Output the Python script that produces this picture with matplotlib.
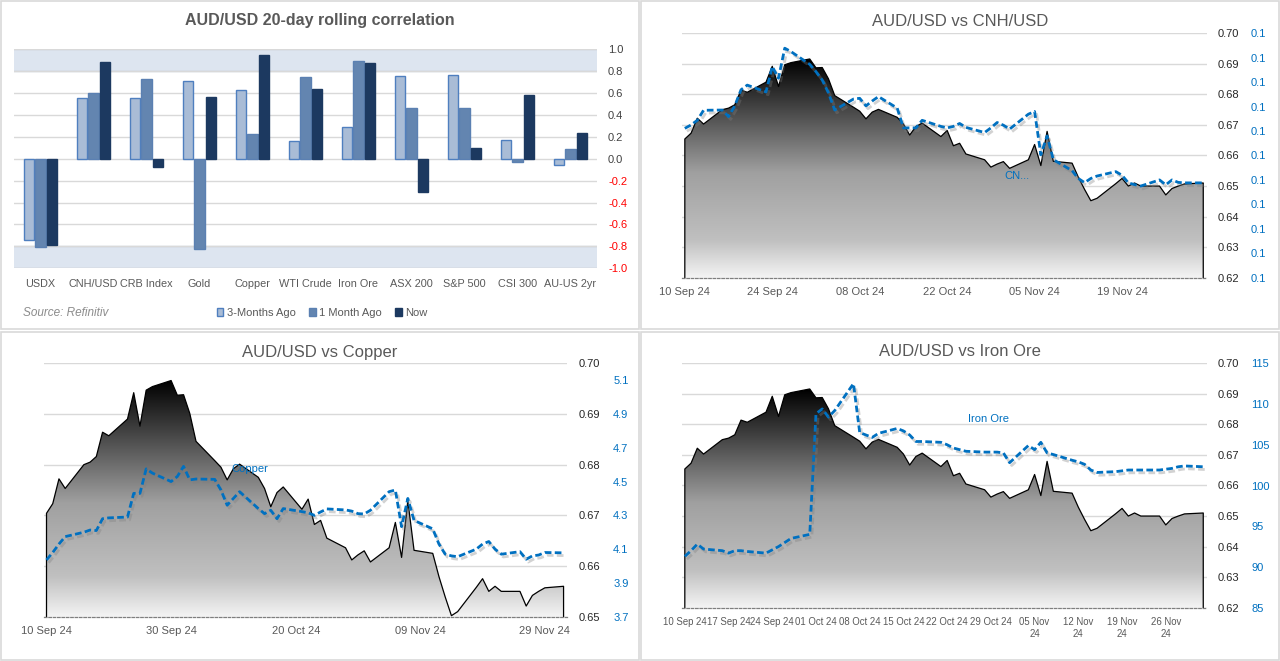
import numpy as np
import pandas as pd
import matplotlib
matplotlib.use('Agg')
import matplotlib.pyplot as plt
import matplotlib.dates as mdates
from matplotlib.colors import LinearSegmentedColormap
from matplotlib import patheffects as pe
from matplotlib.patches import Rectangle

plt.rcParams['font.family'] = ['Liberation Sans', 'DejaVu Sans']

# ---------------- correlation bars ----------------
categories = ['USDX', 'CNH/USD', 'CRB Index', 'Gold', 'Copper', 'WTI Crude',
              'Iron Ore', 'ASX 200', 'S&P 500', 'CSI 300', 'AU-US 2yr']
corr_3m = [-0.74, 0.555, 0.555, 0.71, 0.627, 0.164, 0.291, 0.755, 0.764, 0.173, -0.055]
corr_1m = [-0.805, 0.60, 0.727, -0.827, 0.227, 0.745, 0.894, 0.467, 0.467, -0.03, 0.085]
corr_now = [-0.79, 0.885, -0.076, 0.567, 0.948, 0.639, 0.876, -0.303, 0.103, 0.585, 0.239]
corr_ticks = [1.0, 0.8, 0.6, 0.4, 0.2, 0.0, -0.2, -0.4, -0.6, -0.8, -1.0]

# ---------------- daily series ----------------
dates = pd.bdate_range('2024-09-10', '2024-12-02')
audusd = [0.6654, 0.6673, 0.6722, 0.6703,
          0.6750, 0.6755, 0.6766, 0.6814, 0.6807,
          0.6840, 0.6892, 0.6826, 0.6897, 0.6904,
          0.6916, 0.6887, 0.6888, 0.6851, 0.6796,
          0.6758, 0.6745, 0.6720, 0.6742, 0.6751,
          0.6725, 0.6703, 0.6667, 0.6695, 0.6706,
          0.6662, 0.6682, 0.6632, 0.6640, 0.6605,
          0.6586, 0.6562, 0.6572, 0.6580, 0.6558,
          0.6586, 0.6636, 0.6567, 0.6679, 0.6581,
          0.6575, 0.6529, 0.6489, 0.6452, 0.6460,
          0.6508, 0.6525, 0.6500, 0.6510, 0.6500,
          0.6500, 0.6471, 0.6492, 0.6500, 0.6507, 0.6510]
cnhusd = [0.14011, 0.14025, 0.14044, 0.14085,
          0.14086, 0.14059, 0.14103, 0.14169, 0.14188,
          0.14160, 0.14264, 0.14216, 0.14339, 0.14325,
          0.14273, 0.14243, 0.14209, 0.14156, 0.14086,
          0.14131, 0.14134, 0.14103, 0.14123, 0.14141,
          0.14094, 0.14013, 0.14013, 0.14013, 0.14044,
          0.14019, 0.14013, 0.14019, 0.14031, 0.14015,
          0.13994, 0.14013, 0.14035, 0.14024, 0.14008,
          0.14069, 0.14080, 0.13903, 0.13980, 0.13883,
          0.13838, 0.13806, 0.13789, 0.13806, 0.13816,
          0.13834, 0.13819, 0.13788, 0.13781, 0.13775,
          0.13800, 0.13780, 0.13800, 0.13790, 0.13788, 0.13788]
copper = [4.036, 4.08, 4.13, 4.174,
          4.20, 4.213, 4.21, 4.28, 4.285,
          4.29, 4.43, 4.43, 4.575, 4.55,
          4.50, 4.53, 4.59, 4.51, 4.515,
          4.513, 4.45, 4.36, 4.40, 4.44,
          4.34, 4.31, 4.33, 4.28, 4.34,
          4.322, 4.315, 4.30, 4.32, 4.338,
          4.332, 4.325, 4.31, 4.308, 4.33,
          4.44, 4.45, 4.233, 4.40, 4.27,
          4.22, 4.13, 4.07, 4.06, 4.055,
          4.10, 4.13, 4.145, 4.10, 4.07,
          4.085, 4.04, 4.06, 4.065, 4.08, 4.078]
iron_ore = [91.3, 92.0, 92.8, 92.2,
            92.0, 91.7, 92.0, 92.0, 91.9,
            91.7, 92.1, 92.5, 93.0, 93.5,
            94.0, 108.8, 109.4, 108.4, 109.2,
            112.5, 106.5, 106.2, 105.9, 106.4,
            107.0, 106.7, 106.2, 105.4, 105.4,
            105.3, 105.0, 104.6, 104.4, 104.2,
            104.1, 104.1, 104.1, 104.0, 102.8,
            104.9, 104.4, 105.3, 104.0, 103.8,
            103.1, 102.9, 102.6, 101.9, 101.6,
            101.7, 101.8, 101.9, 101.9, 101.9,
            101.9, 102.0, 102.1, 102.3, 102.4, 102.3]

cnh_xticks = ['2024-09-10', '2024-09-24', '2024-10-08', '2024-10-22', '2024-11-05', '2024-11-19']
cnh_xlabels = ['10 Sep 24', '24 Sep 24', '08 Oct 24', '22 Oct 24', '05 Nov 24', '19 Nov 24']
cu_xticks = ['2024-09-10', '2024-09-30', '2024-10-20', '2024-11-09', '2024-11-29']
cu_xlabels = ['10 Sep 24', '30 Sep 24', '20 Oct 24', '09 Nov 24', '29 Nov 24']
fe_xticks = ['2024-09-10', '2024-09-17', '2024-09-24', '2024-10-01', '2024-10-08', '2024-10-15',
             '2024-10-22', '2024-10-29', '2024-11-05', '2024-11-12', '2024-11-19', '2024-11-26']
fe_xlabels = ['10 Sep 24', '17 Sep 24', '24 Sep 24', '01 Oct 24', '08 Oct 24', '15 Oct 24',
              '22 Oct 24', '29 Oct 24', '05 Nov\n24', '12 Nov\n24', '19 Nov\n24', '26 Nov\n24']

BLUE = '#0070c0'
GREY_TXT = '#595959'
area_cmap = LinearSegmentedColormap.from_list(
    'area', [(0, '#000000'), (0.52, '#a0a0a0'), (0.83, '#c0c0c0'), (1, '#f4f4f4')])

W, H = 1280, 661
fig = plt.figure(figsize=(W / 100, H / 100), dpi=100)


def rect(x0, y0, x1, y1):
    return [x0 / W, 1 - y1 / H, (x1 - x0) / W, (y1 - y0) / H]


# quadrant borders
for qx, qy in [(0, 0.5), (0.5, 0.5), (0, 0), (0.5, 0)]:
    fig.add_artist(Rectangle((qx + 0.001, qy + 0.002), 0.498, 0.496, transform=fig.transFigure,
                             fill=False, edgecolor='#d9d9d9', lw=1.2))

# ================= top-left: correlation bars =================
ax1 = fig.add_axes(rect(14, 49.3, 597, 268.3))
x = np.arange(len(categories))
w, off = 0.19, 0.223
ax1.axhspan(0.8, 1.0, color='#dde5f0', zorder=0, lw=0)
ax1.axhspan(-1.0, -0.8, color='#dde5f0', zorder=0, lw=0)
ax1.bar(x - off, corr_3m, w, color='#a9bcd6', edgecolor='#4f7fbf', lw=1, zorder=3, label='3-Months Ago')
ax1.bar(x, corr_1m, w, color='#6385b0', edgecolor='#5b80b2', lw=1, zorder=3, label='1 Month Ago')
ax1.bar(x + off, corr_now, w, color='#1c3960', edgecolor='#1c3960', lw=1, zorder=3, label='Now')
ax1.set_xlim(-0.5, len(categories) - 0.5)
ax1.set_ylim(-1, 1)
ax1.yaxis.tick_right()
ax1.set_yticks(corr_ticks, [f'{t:.1f}' for t in corr_ticks])
for lab, t in zip(ax1.get_yticklabels(), corr_ticks):
    lab.set_color('#ff0000' if t < 0 else '#404040')
ax1.grid(axis='y', color='#d9d9d9', lw=1, zorder=1)
for yb in (0.8, -0.8, 1.0, -1.0):
    ax1.axhline(yb, color='#c5cedb', lw=1, zorder=1)
for sp in ax1.spines.values():
    sp.set_visible(False)
ax1.set_xticks(x, categories)
ax1.tick_params(axis='x', length=0, pad=8, labelsize=7.8, labelcolor=GREY_TXT)
ax1.tick_params(axis='y', length=0, pad=8, labelsize=8)
fig.text(320 / W, 1 - 21 / H, 'AUD/USD 20-day rolling correlation', ha='center', va='center',
         fontsize=11.5, fontweight='bold', color=GREY_TXT)
fig.text(23 / W, 1 - 313 / H, 'Source: Refinitiv', ha='left', va='center', fontsize=8.5,
         style='italic', color='#8c8c8c')
fig.legend(*ax1.get_legend_handles_labels(), loc='center', bbox_to_anchor=(322 / W, 1 - 313 / H),
           ncol=3, frameon=False, fontsize=8, handlelength=0.6, handleheight=0.8,
           handletextpad=0.3, columnspacing=1.2, labelcolor=GREY_TXT)


# ================= line panels =================
def pair_panel(r, title, title_y, ylim, yticks, ylabels, sec, sec_lim, sec_ticks, sec_labels,
               xticks, xlabels, name, name_xy, pad1, pad2, xsize=8):
    ax = fig.add_axes(r)
    xn = mdates.date2num(dates)
    base = ylim[0]
    poly = ax.fill_between(xn, audusd, base, facecolor='none', edgecolor='none')
    grad = np.linspace(0, 1, 256).reshape(-1, 1)
    img = ax.imshow(grad, cmap=area_cmap, aspect='auto', origin='upper', zorder=2,
                    extent=[xn[0], xn[-1], base, max(audusd)])
    img.set_clip_path(poly.get_paths()[0], transform=ax.transData)
    ax.plot(np.r_[xn[0], xn, xn[-1]], np.r_[base, audusd, base], color='black', lw=0.9, zorder=3)
    ax.set_xlim(xn[0] - 0.45, xn[-1] + 0.6)
    ax.set_ylim(*ylim)
    ax.grid(axis='y', color='#d9d9d9', lw=1, zorder=0)
    ax.set_axisbelow(True)
    for sp in ('top', 'left', 'right'):
        ax.spines[sp].set_visible(False)
    ax.spines['bottom'].set_linestyle((0, (2, 1.5)))
    ax.spines['bottom'].set_color('#7f7f7f')
    ax.spines['bottom'].set_linewidth(0.9)
    ax.spines['bottom'].set_zorder(4)
    ax.set_xticks(mdates.date2num(pd.to_datetime(xticks)), xlabels)
    ax.tick_params(axis='x', length=0, pad=7, labelsize=xsize, labelcolor=GREY_TXT)

    ax2 = ax.twinx()
    ax2.plot(xn, sec, color=BLUE, lw=2.0, ls=(0, (2.4, 1.2)), zorder=5,
             path_effects=[pe.SimpleLineShadow(offset=(1.5, -2.0), shadow_color='#7f7f7f', alpha=0.35),
                           pe.Normal()])
    ax2.set_ylim(*sec_lim)
    ax2.set_yticks(sec_ticks, sec_labels)
    ax2.tick_params(axis='y', length=0, pad=pad2, labelsize=8, labelcolor=BLUE)
    for sp in ax2.spines.values():
        sp.set_visible(False)

    # twinx moves the primary ticks to the left; put them back on the right
    ax.yaxis.tick_right()
    ax.set_yticks(yticks, ylabels)
    ax.tick_params(axis='y', length=0, pad=pad1, labelsize=8, labelcolor='#262626')

    cx = (r[0] + r[2] / 2)
    fig.text(0.25 if cx < 0.5 else 0.75, 1 - title_y / H, title, ha='center', va='center',
             fontsize=12, color=GREY_TXT)
    fig.text(name_xy[0] / W, 1 - name_xy[1] / H, name, ha='center', va='center',
             fontsize=8, color=BLUE)
    return ax, ax2


aud_ticks = [0.62, 0.63, 0.64, 0.65, 0.66, 0.67, 0.68, 0.69, 0.70]
aud_labels = ['0.62', '0.63', '0.64', '0.65', '0.66', '0.67', '0.68', '0.69', '0.70']
cnh_ticks = list(np.linspace(0.134, 0.144, 11))
cnh_labels = ['0.1'] * 11

pair_panel(rect(682, 33.3, 1207, 277.7), 'AUD/USD vs CNH/USD', 21,
           (0.62, 0.70), aud_ticks, aud_labels,
           cnhusd, (0.134, 0.144), cnh_ticks, cnh_labels,
           cnh_xticks, cnh_xlabels, 'CN...', (1017, 176), 7.6, 31.7)

cu_aud_ticks = [0.645, 0.655, 0.665, 0.675, 0.685, 0.695]
cu_aud_labels = ['0.65', '0.66', '0.67', '0.68', '0.69', '0.70']
cu_ticks = [3.7, 3.9, 4.1, 4.3, 4.5, 4.7, 4.9, 5.1]
cu_labels = ['3.7', '3.9', '4.1', '4.3', '4.5', '4.7', '4.9', '5.1']
pair_panel(rect(43.7, 363.3, 567.3, 616.7), 'AUD/USD vs Copper', 352,
           (0.645, 0.695), cu_aud_ticks, cu_aud_labels,
           copper, (3.7, 5.2), cu_ticks, cu_labels,
           cu_xticks, cu_xlabels, 'Copper', (250, 469), 8.3, 33)

fe_ticks = [85, 90, 95, 100, 105, 110, 115]
fe_labels = ['85', '90', '95', '100', '105', '110', '115']
pair_panel(rect(682, 363.3, 1207, 607.7), 'AUD/USD vs Iron Ore', 352,
           (0.62, 0.70), aud_ticks, aud_labels,
           iron_ore, (85, 115), fe_ticks, fe_labels,
           fe_xticks, fe_xlabels, 'Iron Ore', (988, 419), 7.6, 31.7, xsize=6.9)

fig.savefig('out.png', dpi=100)
